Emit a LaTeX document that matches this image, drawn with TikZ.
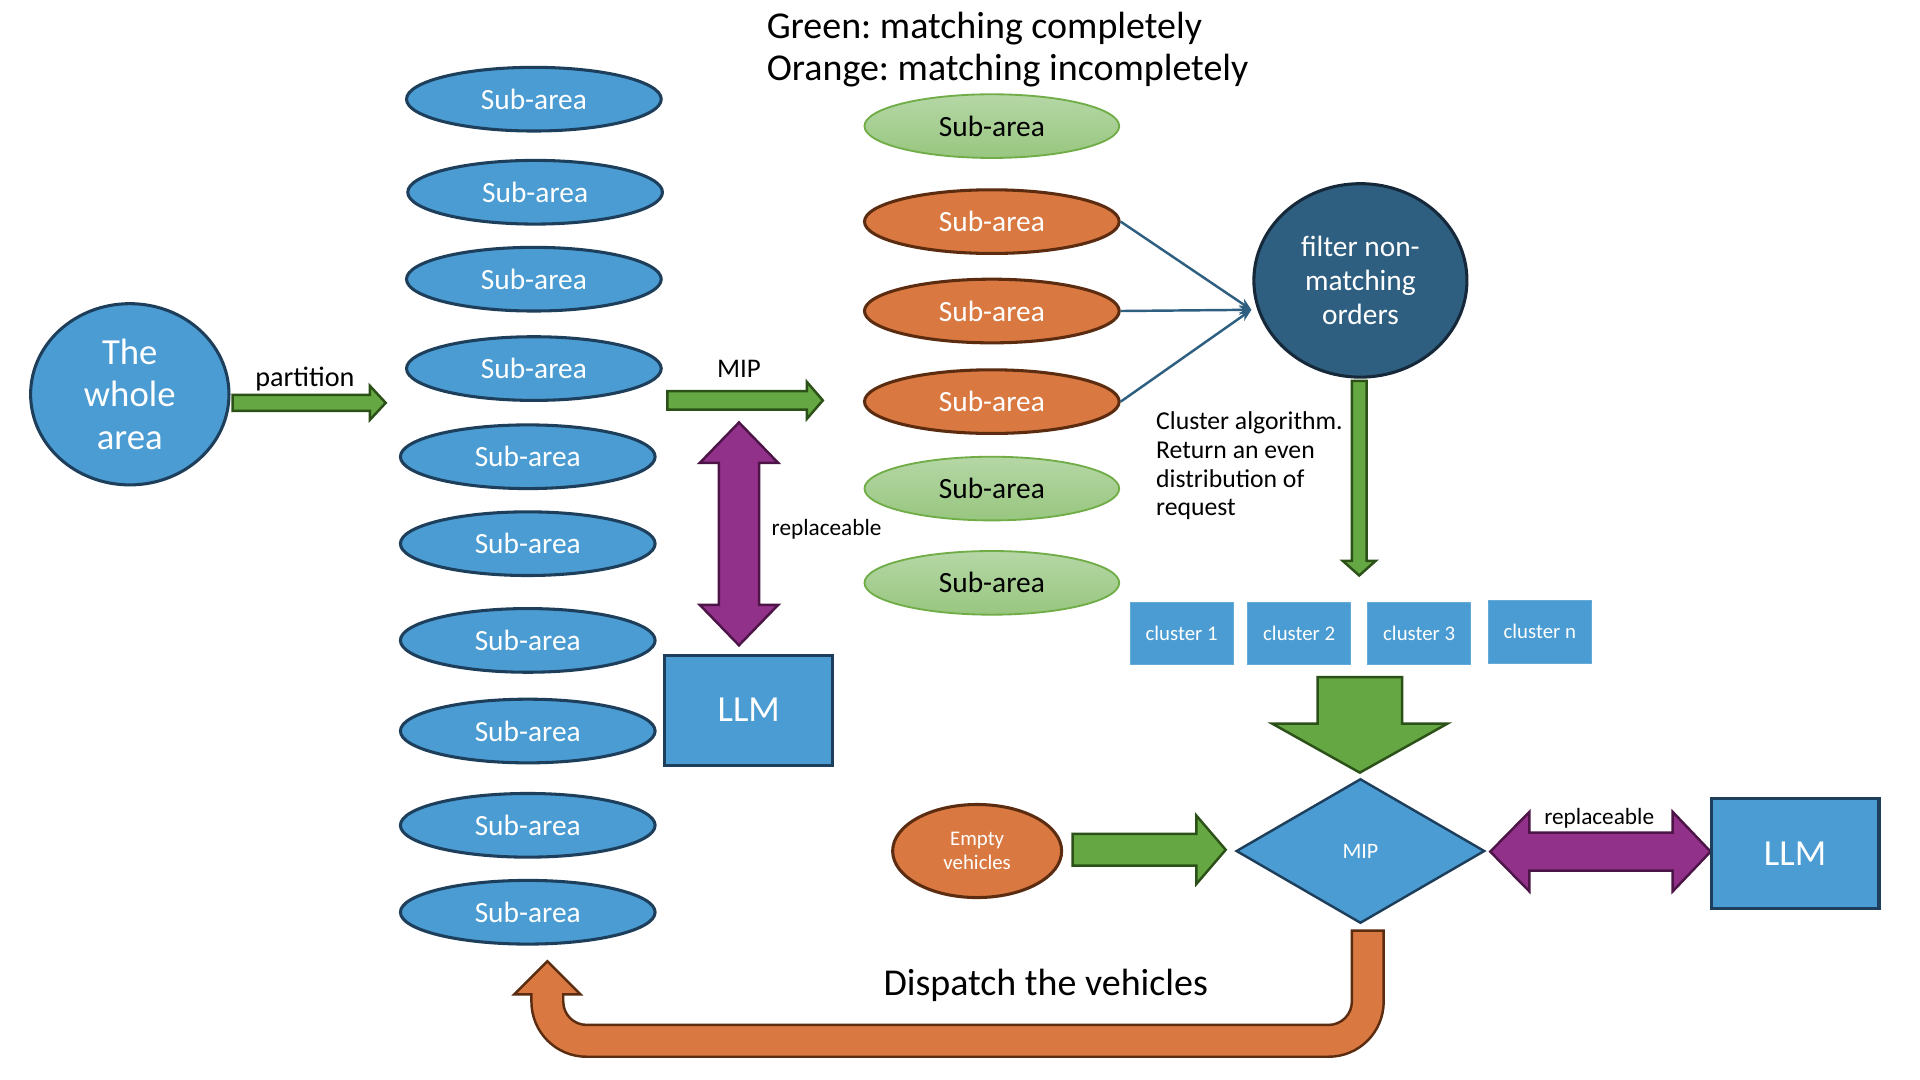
\documentclass[tikz,border=0pt]{standalone}
\usepackage{fontspec}
\setmainfont{Carlito}
\usetikzlibrary{shapes.geometric,arrows.meta}
\definecolor{cblue}{HTML}{4A9CD2}
\definecolor{cnavy}{HTML}{1E3F5C}
\definecolor{corange}{HTML}{D97941}
\definecolor{cbrown}{HTML}{5C2C10}
\definecolor{cgreenA}{HTML}{B5D7A6}
\definecolor{cgreenB}{HTML}{98C67F}
\definecolor{cgreenL}{HTML}{70AD47}
\definecolor{carrow}{HTML}{65A743}
\definecolor{carrowD}{HTML}{2C5118}
\definecolor{cpurple}{HTML}{913189}
\definecolor{cpurpleD}{HTML}{4D1547}
\definecolor{cfilter}{HTML}{2E5F80}
\definecolor{cfilterD}{HTML}{15293A}
\newcommand{\fsz}[2]{\fontsize{#1}{#2}\selectfont}
\frenchspacing
\begin{document}
\begin{tikzpicture}[x=1pt,y=-1pt,
  bsub/.style={ellipse, draw=cnavy, line width=2.5pt, fill=cblue, minimum width=208pt, minimum height=52pt, inner sep=0pt, text=white, font=\fsz{24}{28}},
  osub/.style={bsub, draw=cbrown, fill=corange},
  gsub/.style={bsub, draw=cgreenL, line width=1.5pt, top color=cgreenA, bottom color=cgreenB, text=black},
  clbox/.style={rectangle, fill=cblue, draw=cblue!85!white, line width=0.8pt, minimum width=84pt, minimum height=51pt, inner sep=0pt, text=white, font=\fsz{17}{20}},
  llmbox/.style={rectangle, fill=cblue, draw=cnavy, line width=2.5pt, minimum width=137pt, minimum height=90pt, inner sep=0pt, text=white, font=\fsz{30}{34}},
  garr/.style={fill=carrow, draw=carrowD, line width=2pt, line join=miter},
  parr/.style={fill=cpurple, draw=cpurpleD, line width=2pt, line join=miter},
  oarr/.style={fill=corange, draw=cbrown, line width=2pt, line join=miter},
  thinarr/.style={draw=cfilter, line width=2pt, -{Stealth[length=10pt,width=8pt,open]}},
  lbl/.style={inner sep=0pt, text=black},
]
\useasboundingbox (0,0) rectangle (1568,882);
\fill[white] (0,0) rectangle (1568,882);

% title
\node[lbl, anchor=base west, font=\fsz{31}{34}] (t1) at (626,31.5) {Green: matching completely};
\node[lbl, anchor=base west, font=\fsz{31}{34}] (t2) at (626,65.5) {Orange: matching incompletely};

% whole area
\node[ellipse, draw=cnavy, line width=2.5pt, fill=cblue, minimum width=162pt, minimum height=148pt, inner sep=0pt, text=white, align=center, font=\fsz{30}{35}] (whole) at (106,322) {The\\whole\\area};

% left column
\node[bsub] (b1) at (436,81) {Sub-area};
\node[bsub] (b2) at (437,157) {Sub-area};
\node[bsub] (b3) at (436,228) {Sub-area};
\node[bsub] (b4) at (436,301) {Sub-area};
\node[bsub] (b5) at (431,373) {Sub-area};
\node[bsub] (b6) at (431,444) {Sub-area};
\node[bsub] (b7) at (431,523) {Sub-area};
\node[bsub] (b8) at (431,597) {Sub-area};
\node[bsub] (b9) at (431,674) {Sub-area};
\node[bsub] (b10) at (431,745) {Sub-area};

% partition arrow
\draw[garr] (190,322.5) -- (302,322.5) -- (302,315) -- (315,329) -- (302,343) -- (302,335.5) -- (190,335.5) -- cycle;
\node[lbl, anchor=base, font=\fsz{23}{26}] (part) at (249,316) {partition};

% MIP arrow
\draw[garr] (545,319.5) -- (659,319.5) -- (659,312) -- (672,327) -- (659,342) -- (659,334.5) -- (545,334.5) -- cycle;
\node[lbl, anchor=base, font=\fsz{22}{26}] (mipl) at (603.5,308) {MIP};

% vertical purple
\draw[parr] (603.5,345) -- (635.5,378) -- (620,378) -- (620,494) -- (635.5,494) -- (603.5,527) -- (571.5,494) -- (587,494) -- (587,378) -- (571.5,378) -- cycle;
\node[lbl, anchor=west, font=\fsz{19}{22}] (rep1) at (630,432) {replaceable};

% LLM left
\node[llmbox] (llm1) at (611.5,580) {LLM};

% right column
\node[gsub] (g1) at (810,103) {Sub-area};
\node[osub] (o1) at (810,181) {Sub-area};
\node[osub] (o2) at (810,254) {Sub-area};
\node[osub] (o3) at (810,328) {Sub-area};
\node[gsub] (g2) at (810,399) {Sub-area};
\node[gsub] (g3) at (810,476) {Sub-area};

% filter
\node[ellipse, draw=cfilterD, line width=2.5pt, fill=cfilter, minimum width=174pt, minimum height=158pt, inner sep=0pt, text=white, align=center, font=\fsz{24}{28}] (filter) at (1111,229) {filter non-\\matching\\orders};
\coordinate (fin) at (1022,253);
\draw[thinarr] (o1.east) -- (fin);
\draw[thinarr] (o2.east) -- (fin);
\draw[thinarr] (o3.east) -- (fin);

\node[lbl, anchor=north west, align=left, font=\fsz{21}{23.5}] (clalg) at (944,336) {Cluster algorithm.\\Return an even\\distribution of\\request};

% down arrow to clusters
\draw[garr] (1104,311) -- (1116,311) -- (1116,458) -- (1123.5,458) -- (1110,470) -- (1096.5,458) -- (1104,458) -- cycle;

% clusters
\node[clbox] (c1) at (965,517.5) {cluster 1};
\node[clbox] (c2) at (1061,517.5) {cluster 2};
\node[clbox] (c3) at (1159,517.5) {cluster 3};
\node[clbox] (cn) at (1257.5,516) {cluster n};

% big down arrow
\draw[garr] (1076,553) -- (1145,553) -- (1145,591) -- (1182,591) -- (1110.5,631) -- (1039,591) -- (1076,591) -- cycle;

% diamond
\node[diamond, aspect=1.71, draw=cnavy, line width=2pt, fill=cblue, minimum width=203pt, minimum height=118pt, inner sep=0pt, text=white, font=\fsz{18}{21}] (mip) at (1111,695) {MIP};

% empty vehicles
\node[ellipse, draw=cbrown, line width=2.5pt, fill=corange, minimum width=138pt, minimum height=76pt, inner sep=0pt, text=white, align=center, font=\fsz{17}{19}] (empty) at (798,695) {Empty\\vehicles};
\draw[garr] (876,681) -- (977,681) -- (977,666) -- (1001,694) -- (977,722) -- (977,707) -- (876,707) -- cycle;

% horizontal purple
\draw[parr] (1217,695.5) -- (1249,663) -- (1249,680) -- (1366,680) -- (1366,663) -- (1397,695.5) -- (1366,728) -- (1366,711) -- (1249,711) -- (1249,728) -- cycle;
\node[lbl, anchor=base, font=\fsz{19}{22}] (rep2) at (1306,673) {replaceable};

% LLM right
\node[llmbox] (llm2) at (1466,697) {LLM};

% orange U arrow
\draw[oarr] (1104,760) -- (1130,760) -- (1130,818) .. controls (1130,842.9) and (1109.9,863) .. (1085,863) -- (479,863) .. controls (454.1,863) and (434,842.9) .. (434,818) -- (434,812) -- (420,812) -- (447,785) -- (474,812) -- (460,812) -- (460,818) .. controls (460,828.5) and (468.5,837) .. (479,837) -- (1085,837) .. controls (1095.5,837) and (1104,828.5) .. (1104,818) -- cycle;
\node[lbl, anchor=base, font=\fsz{31}{34}] (disp) at (854,813) {Dispatch the vehicles};
\end{tikzpicture}
\end{document}
